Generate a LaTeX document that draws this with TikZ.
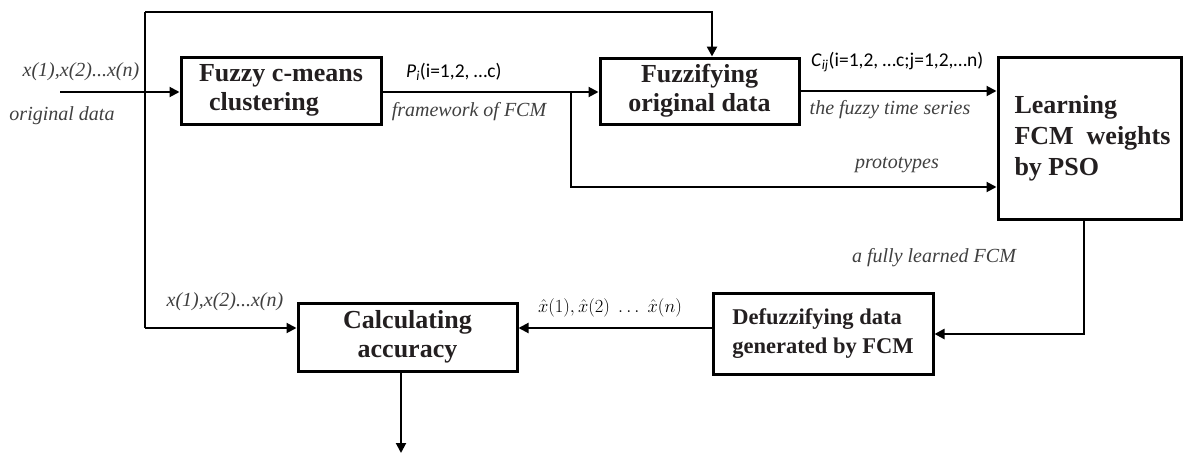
\RequirePackage{fix-cm}
\documentclass[tikz,border=0pt]{standalone}
\usepackage{fontspec}
\setmainfont{Liberation Serif}
\newfontfamily\lblsans{Carlito}
\usetikzlibrary{arrows.meta}
\definecolor{txtdark}{HTML}{231F20}
\definecolor{lblgray}{HTML}{404040}
\tikzset{
  box/.style={draw=black, line width=3pt, inner sep=0pt, text=txtdark,
    font=\fontsize{26}{29}\selectfont\bfseries},
  conn/.style={line width=2pt, -{Triangle[length=10pt,width=10pt]}},
  loop/.style={line width=2.8pt},
  ilbl/.style={text=lblgray, inner sep=0pt, font=\fontsize{20}{24}\selectfont\itshape},
  slbl/.style={text=black, inner sep=0pt, font=\fontsize{19.5}{23}\selectfont\lblsans},
}
\begin{document}
\begin{tikzpicture}[x=1pt,y=-1pt]
\useasboundingbox (0,0) rectangle (1183,455);

% boxes
\node[box, minimum width=200pt, minimum height=67pt, align=left] (b1) at (281,90.5)
  {Fuzzy c-means\\\hspace{10pt}clustering};
\node[box, minimum width=199pt, minimum height=66pt, align=center] (b2) at (699.5,91)
  {Fuzzifying\\original data};
\node[box, minimum width=183pt, minimum height=162pt, align=left,
  font=\fontsize{26}{31}\selectfont\bfseries] (b3) at (1089.5,138)
  {\hspace*{6pt}Learning\\\hspace*{6pt}FCM\ \ weights\\\hspace*{6pt}by PSO};
\node[box, minimum width=220pt, minimum height=81pt, align=left,
  font=\fontsize{22.5}{29}\selectfont\bfseries] (df) at (823,333.5)
  {Defuzzifying data\\generated by FCM};
\node[box, minimum width=219pt, minimum height=68pt, align=center] (ca) at (407.5,337)
  {Calculating\\accuracy};

% helper coordinates
\coordinate (in) at (60,92);
\coordinate (tl) at (145,12);
\coordinate (tr) at (712,12);
\coordinate (bl) at (145,328);
\coordinate (bp) at (571,187);
\coordinate (rd) at (1084,334);
\coordinate (out) at (401,453);

% connectors
\draw[conn] (in) -- (in -| b1.west);
\draw[loop] (tl) -- (bl);
\draw[loop, -{Triangle[length=10pt,width=10pt]}] (tl) -- (tr) -- (tr |- b2.north);
\draw[conn] (b1.east |- in) -- (b2.west |- in);
\draw[conn] (b2.east) -- (b2.east -| b3.west);
\draw[conn] (bp |- in) -- (bp) -- (bp -| b3.west);
\draw[loop, -{Triangle[length=10pt,width=10pt]}] (rd |- b3.south) -- (rd) -- (rd -| df.east);
\draw[conn] (df.west |- bl) -- (ca.east |- bl);
\draw[conn] (bl) -- (bl -| ca.west);
\draw[conn] (out |- ca.south) -- (out);

% labels
\node[ilbl] (l1) at (81,72) {x(1),x(2)...x(n)};
\node[ilbl] (l2) at (62,116) {original data};
\node[slbl, anchor=west] (l3) at (406,72) {\textit{P}\textsubscript{\textit{i}}(i=1,2, \ldots c)};
\node[ilbl] (l4) at (469,112) {framework of FCM};
\node[slbl, anchor=west] (l5) at (811,62) {\textit{C}\textsubscript{\textit{ij}}(i=1,2, \ldots c;j=1,2,\ldots n)};
\node[ilbl] (l6) at (890,110) {the fuzzy time series};
\node[ilbl] (l7) at (897,165) {prototypes};
\node[ilbl] (l8) at (934,258) {a fully learned FCM};
\node[ilbl] (l9) at (225,302) {x(1),x(2)...x(n)};
\node[inner sep=0pt, font=\fontsize{18.5}{23}\selectfont] (l10) at (610,308)
  {$\hat{x}(1), \hat{x}(2)\;\ldots\;\hat{x}(n)$};
\end{tikzpicture}
\end{document}
